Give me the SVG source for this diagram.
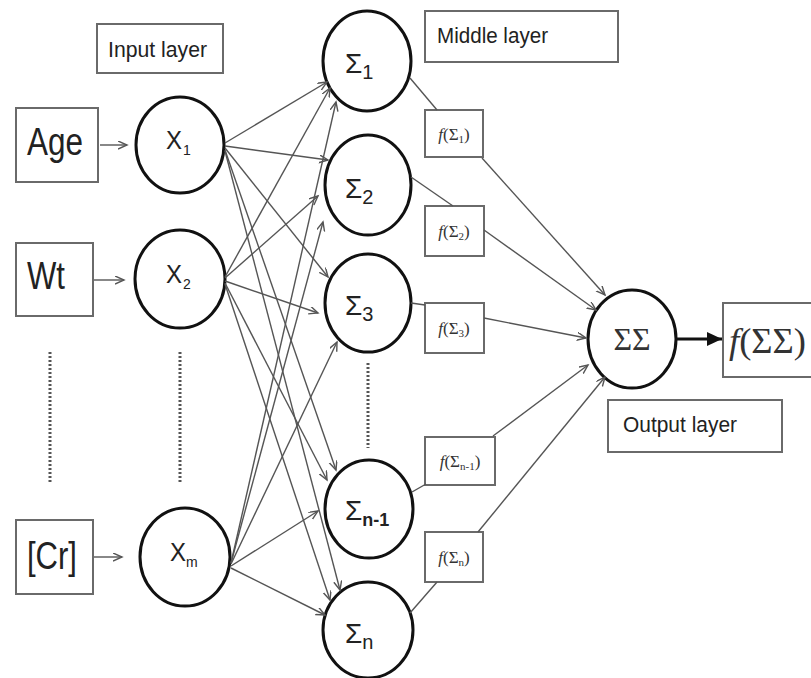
<svg xmlns="http://www.w3.org/2000/svg" width="811" height="678" viewBox="0 0 811 678">
<defs>
<style>
.box{fill:#fff;stroke:#6a6a6a;stroke-width:2}
.node{fill:#fff;stroke:#111;stroke-width:3}
.lbl{font-family:"Liberation Sans",Arial,sans-serif;fill:#222}
.ser{font-family:"Liberation Serif","Times New Roman",serif;fill:#333}
.edge{stroke:#555;stroke-width:1.4;fill:none}
.arr{marker-end:url(#open)}
.dots{stroke:#555;stroke-width:3;stroke-dasharray:2 2;fill:none}
</style>
<marker id="open" markerUnits="userSpaceOnUse" markerWidth="12" markerHeight="10" refX="9" refY="4" orient="auto">
<path d="M0,0 L9,4 L0,8" fill="none" stroke="#555" stroke-width="1.4"/>
</marker>
<marker id="solid" markerUnits="userSpaceOnUse" markerWidth="16" markerHeight="14" refX="15" refY="7" orient="auto">
<path d="M0,0 L15,7 L0,14 Z" fill="#111"/>
</marker>
</defs>
<rect width="811" height="678" fill="#fff"/>

<g id="labels">
<rect class="box" x="97" y="24" width="126" height="49"/>
<text class="lbl" x="108" y="57" font-size="22" textLength="99" lengthAdjust="spacingAndGlyphs">Input layer</text>
<rect class="box" x="425" y="11" width="193" height="51"/>
<text class="lbl" x="437" y="43" font-size="22" textLength="111" lengthAdjust="spacingAndGlyphs">Middle layer</text>
<rect class="box" x="608" y="400" width="174" height="52"/>
<text class="lbl" x="623" y="432" font-size="22" textLength="114" lengthAdjust="spacingAndGlyphs">Output layer</text>
</g>

<g id="in-age"><rect class="box" x="16" y="108" width="82" height="74"/>
<text class="lbl" x="27" y="155" font-size="38" textLength="56" lengthAdjust="spacingAndGlyphs">Age</text></g>
<g id="in-wt"><rect class="box" x="16" y="243" width="77" height="73"/>
<text class="lbl" x="27" y="289" font-size="38" textLength="38" lengthAdjust="spacingAndGlyphs">Wt</text></g>
<g id="in-cr"><rect class="box" x="16" y="520" width="77" height="74"/>
<text class="lbl" x="27" y="569" font-size="38" textLength="50" lengthAdjust="spacingAndGlyphs">[Cr]</text></g>

<g id="x1"><ellipse class="node" cx="180" cy="145" rx="44" ry="48"/>
<text class="lbl" x="166" y="149" font-size="25" textLength="16" lengthAdjust="spacingAndGlyphs">X</text>
<text class="lbl" x="183" y="155" font-size="14">1</text></g>
<g id="x2"><ellipse class="node" cx="180" cy="279" rx="45" ry="49"/>
<text class="lbl" x="166" y="283" font-size="25" textLength="16" lengthAdjust="spacingAndGlyphs">X</text>
<text class="lbl" x="183" y="289" font-size="14">2</text></g>
<g id="xm"><ellipse class="node" cx="185" cy="557" rx="45" ry="49"/>
<text class="lbl" x="170" y="561" font-size="25" textLength="16" lengthAdjust="spacingAndGlyphs">X</text>
<text class="lbl" x="186" y="567" font-size="14">m</text></g>

<g id="s1"><ellipse class="node" cx="367" cy="61" rx="44" ry="50"/>
<text class="lbl" x="345" y="73" font-size="28">Σ<tspan font-size="20" dy="6">1</tspan></text></g>
<g id="s2"><ellipse class="node" cx="368" cy="185" rx="43" ry="50"/>
<text class="lbl" x="345" y="198" font-size="28">Σ<tspan font-size="20" dy="6">2</tspan></text></g>
<g id="s3"><ellipse class="node" cx="368" cy="303" rx="43" ry="49"/>
<text class="lbl" x="345" y="315" font-size="28">Σ<tspan font-size="20" dy="6">3</tspan></text></g>
<g id="sn1"><ellipse class="node" cx="369" cy="509" rx="44" ry="49"/>
<text class="lbl" x="345" y="520" font-size="28">Σ<tspan font-size="18" font-weight="bold" dy="6">n-1</tspan></text></g>
<g id="sn"><ellipse class="node" cx="368" cy="630" rx="45" ry="48"/>
<text class="lbl" x="345" y="643" font-size="28">Σ<tspan font-size="20" dy="6">n</tspan></text></g>

<g id="f1"><rect class="box" x="425" y="110" width="58" height="47"/>
<text class="ser" x="454" y="140" font-size="17" text-anchor="middle"><tspan font-style="italic">f</tspan>(Σ<tspan font-size="11" dy="3">1</tspan><tspan dy="-3">)</tspan></text></g>
<g id="f2"><rect class="box" x="425" y="206" width="59" height="50"/>
<text class="ser" x="454" y="237" font-size="17" text-anchor="middle"><tspan font-style="italic">f</tspan>(Σ<tspan font-size="11" dy="3">2</tspan><tspan dy="-3">)</tspan></text></g>
<g id="f3"><rect class="box" x="425" y="303" width="59" height="50"/>
<text class="ser" x="454" y="334" font-size="17" text-anchor="middle"><tspan font-style="italic">f</tspan>(Σ<tspan font-size="11" dy="3">3</tspan><tspan dy="-3">)</tspan></text></g>
<g id="fn1"><rect class="box" x="425" y="437" width="70" height="48"/>
<text class="ser" x="460" y="467" font-size="17" text-anchor="middle"><tspan font-style="italic">f</tspan>(Σ<tspan font-size="11" dy="3">n-1</tspan><tspan dy="-3">)</tspan></text></g>
<g id="fn"><rect class="box" x="425" y="532" width="58" height="50"/>
<text class="ser" x="454" y="563" font-size="17" text-anchor="middle"><tspan font-style="italic">f</tspan>(Σ<tspan font-size="11" dy="3">n</tspan><tspan dy="-3">)</tspan></text></g>

<g id="out"><ellipse class="node" cx="632" cy="339" rx="44" ry="49"/>
<text class="ser" x="632" y="350" font-size="32" text-anchor="middle">ΣΣ</text></g>
<g id="fout"><rect class="box" x="723" y="303" width="92" height="74"/>
<text class="ser" x="729" y="353" font-size="36" textLength="77" lengthAdjust="spacingAndGlyphs"><tspan font-style="italic">f</tspan>(ΣΣ)</text></g>

<g id="dots">
<line class="dots" x1="50" y1="352" x2="50" y2="482"/>
<line class="dots" x1="180" y1="352" x2="180" y2="482"/>
<line class="dots" x1="368" y1="363" x2="368" y2="448"/>
</g>

<g id="connectors">
<line class="edge arr" x1="100" y1="145" x2="127" y2="145"/>
<line class="edge arr" x1="94" y1="280" x2="124" y2="280"/>
<line class="edge arr" x1="94" y1="557" x2="122" y2="557"/>

<line class="edge arr" x1="225" y1="143" x2="327" y2="82"/>
<line class="edge arr" x1="225" y1="146" x2="328" y2="160"/>
<line class="edge arr" x1="225" y1="148" x2="328" y2="277"/>
<line class="edge arr" x1="225" y1="150" x2="336" y2="470"/>
<line class="edge arr" x1="225" y1="151" x2="340" y2="590"/>
<line class="edge arr" x1="225" y1="277" x2="330" y2="88"/>
<line class="edge arr" x1="225" y1="278" x2="318" y2="196"/>
<line class="edge arr" x1="225" y1="281" x2="318" y2="313"/>
<line class="edge arr" x1="225" y1="283" x2="327" y2="480"/>
<line class="edge arr" x1="225" y1="284" x2="330" y2="600"/>
<line class="edge arr" x1="231" y1="563" x2="336" y2="102"/>
<line class="edge arr" x1="231" y1="563" x2="323" y2="222"/>
<line class="edge arr" x1="231" y1="564" x2="337" y2="342"/>
<line class="edge arr" x1="231" y1="566" x2="318" y2="511"/>
<line class="edge arr" x1="231" y1="568" x2="325" y2="615"/>

<line class="edge" x1="410" y1="78" x2="437" y2="110"/>
<line class="edge" x1="411" y1="177" x2="453" y2="206"/>
<line class="edge" x1="411" y1="303" x2="425" y2="305"/>
<line class="edge" x1="412" y1="492" x2="426" y2="484"/>
<line class="edge" x1="410" y1="613" x2="437" y2="582"/>

<line class="edge arr" x1="482" y1="158" x2="605" y2="295"/>
<line class="edge arr" x1="484" y1="230" x2="596" y2="310"/>
<line class="edge arr" x1="484" y1="318" x2="586" y2="338"/>
<line class="edge arr" x1="493" y1="436" x2="588" y2="365"/>
<line class="edge arr" x1="478" y1="532" x2="605" y2="377"/>

<line x1="677" y1="339" x2="722" y2="339" stroke="#111" stroke-width="3" marker-end="url(#solid)"/>
</g>
</svg>
